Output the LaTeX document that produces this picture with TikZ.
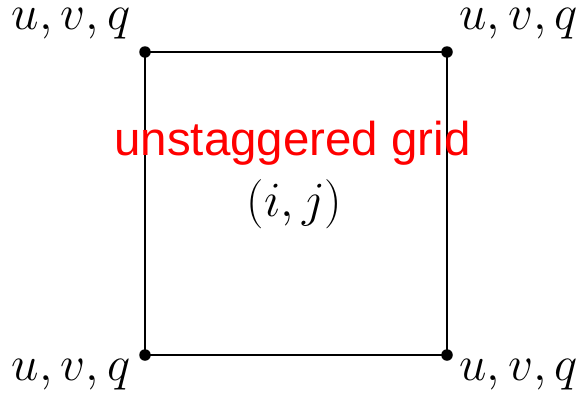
\RequirePackage{fix-cm}
\documentclass[tikz,border=0pt]{standalone}
\usepackage{fontspec}
\newfontfamily\gridfont{Liberation Sans}
\usetikzlibrary{positioning}
\tikzset{
  corner/.style={circle, fill=black, inner sep=0pt, minimum size=0.23cm},
  varlab/.style={inner sep=0pt, font=\fontsize{28}{32}\selectfont},
}

\begin{document}
\begin{tikzpicture}
  \useasboundingbox (0,0) rectangle (11.7,8.04);
  % corners of the cell
  \node[corner] (bl) at (2.9,0.94) {};
  \node[corner] (br) at (8.94,0.94) {};
  \node[corner] (tr) at (8.94,7.0) {};
  \node[corner] (tl) at (2.9,7.0) {};
  \draw[line width=1.1pt] (bl.center) -- (br.center) -- (tr.center) -- (tl.center) -- cycle;
  % variables stored at every corner
  \node[varlab, anchor=base east] (tllab) at (2.62,7.46) {$u,v,q$};
  \node[varlab, anchor=base west] (trlab) at (9.18,7.46) {$u,v,q$};
  \node[varlab, anchor=base east] (bllab) at (2.62,0.44) {$u,v,q$};
  \node[varlab, anchor=base west] (brlab) at (9.18,0.44) {$u,v,q$};
  % cell label
  \node[inner sep=0pt, anchor=base, text=red, font=\gridfont\fontsize{27}{32}\selectfont] (name) at (5.85,4.94) {unstaggered grid};
  \node[varlab, anchor=base] (ij) at (5.89,3.72) {$(i,j)$};
\end{tikzpicture}
\end{document}
